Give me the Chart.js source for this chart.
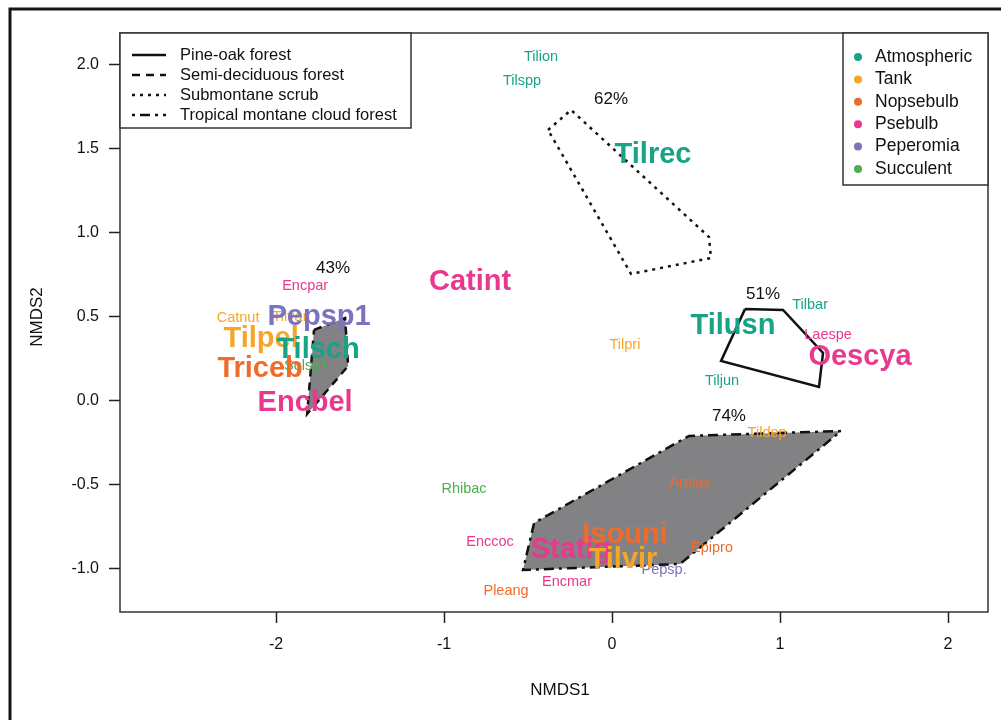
<!DOCTYPE html>
<html>
<head>
<meta charset="utf-8">
<title>NMDS epiphytes</title>
<script src="https://cdn.jsdelivr.net/npm/chart.js@4.4.1/dist/chart.umd.min.js"></script>
<style>
  html, body { margin: 0; padding: 0; background: #fff; }
  canvas { display: block; }
</style>
</head>
<body>
<canvas id="nmdsChart" width="1001" height="720"></canvas>
<script>
// === NMDS ordination of epiphyte species ===

// axis ticks
const xTicks = [-2, -1, 0, 1, 2];
const yTicks = [-1.0, -0.5, 0.0, 0.5, 1.0, 1.5, 2.0];

// functional groups
const groupNames = ['Atmospheric', 'Tank', 'Nopsebulb', 'Psebulb', 'Peperomia', 'Succulent'];
const groupColors = ['#17a386', '#f5a626', '#ef6b2c', '#e8398e', '#7a73bd', '#4caf4c'];

// species scores (group index, abundant = large label)
const speciesNames = ['Tilion', 'Tilspp', 'Tilrec', 'Catint', 'Encpar', 'Catnut', 'Tilvar', 'Pepsp1',
  'Tilpel', 'Solsp1', 'Tilsch', 'Triceb', 'Encbel', 'Tilpri', 'Tilusn', 'Tilbar', 'Laespe', 'Oescya',
  'Tiljun', 'Tildep', 'Arplax', 'Rhibac', 'Enccoc', 'Statig', 'Isouni', 'Epipro', 'Pepsp.', 'Tilvir',
  'Encmar', 'Pleang'];
const speciesX = [-0.423, -0.536, 0.244, -0.845, -1.827, -2.226, -1.917, -1.744,
  -2.089, -1.821, -1.75, -2.095, -1.827, 0.077, 0.72, 1.179, 1.286, 1.476,
  0.655, 0.923, 0.464, -0.881, -0.726, -0.244, 0.077, 0.595, 0.31, 0.065,
  -0.268, -0.631];
const speciesY = [2.048, 1.905, 1.464, 0.708, 0.685, 0.494, 0.5, 0.5,
  0.369, 0.208, 0.304, 0.19, -0.012, 0.333, 0.446, 0.571, 0.393, 0.262,
  0.119, -0.19, -0.488, -0.524, -0.839, -0.887, -0.798, -0.875, -1.006, -0.946,
  -1.077, -1.131];
const speciesGroup = [0, 0, 0, 3, 3, 1, 1, 4,
  1, 5, 0, 2, 3, 1, 0, 0, 3, 3,
  0, 1, 2, 5, 3, 3, 2, 2, 4, 1,
  3, 2];
const speciesAbundant = [false, false, true, true, false, false, false, true,
  true, false, true, true, true, false, true, false, false, true,
  false, false, false, false, false, true, true, false, false, true,
  false, false];

// vegetation types and their hulls
const vegNames = ['Pine-oak forest', 'Semi-deciduous forest', 'Submontane scrub', 'Tropical montane cloud forest'];
const vegDashes = [[], [8, 6], [3, 5], [3, 5, 10, 5]];

const pineOakX = [0.792, 1.018, 1.256, 1.232, 0.649, 0.792];
const pineOakY = [0.548, 0.542, 0.286, 0.083, 0.238, 0.548];
const semiDecidX = [-1.774, -1.589, -1.571, -1.815, -1.774];
const semiDecidY = [0.423, 0.494, 0.208, -0.077, 0.423];
const scrubX = [-0.381, -0.244, 0.577, 0.589, 0.113, -0.381];
const scrubY = [1.613, 1.732, 0.976, 0.851, 0.756, 1.613];
const cloudX = [1.363, 0.458, -0.464, -0.53, 0.405, 1.363];
const cloudY = [-0.179, -0.208, -0.726, -1.006, -0.97, -0.179];

// percentage next to each hull
const hullLabels = ['51%', '43%', '62%', '74%'];
const hullLabelX = [0.899, -1.661, -0.006, 0.696];
const hullLabelY = [0.637, 0.792, 1.798, -0.089];

const FONT = "'Liberation Sans', Arial, sans-serif";

const toPoints = (xs, ys) => xs.map((x, i) => ({ x: x, y: ys[i] }));

const hull = (label, xs, ys, dashIdx, filled) => ({
  label: label,
  data: toPoints(xs, ys),
  showLine: true,
  pointRadius: 0,
  borderColor: '#111',
  borderWidth: 2.5,
  borderDash: vegDashes[dashIdx],
  backgroundColor: filled ? '#828285' : 'transparent',
  fill: filled ? 'shape' : false,
  tension: 0
});

const decorPlugin = {
  id: 'decor',
  beforeDraw(chart) {
    const ctx = chart.ctx;
    ctx.save();
    // outer figure frame (left + top)
    ctx.strokeStyle = '#151515';
    ctx.lineWidth = 3;
    ctx.beginPath();
    ctx.moveTo(10, 720);
    ctx.lineTo(10, 9);
    ctx.lineTo(1001, 9);
    ctx.stroke();
    ctx.restore();
  },
  afterDatasetsDraw(chart) {
    const ctx = chart.ctx;
    const sx = chart.scales.x, sy = chart.scales.y;
    const a = chart.chartArea;
    ctx.save();

    // species labels
    ctx.textAlign = 'center';
    ctx.textBaseline = 'middle';
    speciesNames.forEach((name, i) => {
      ctx.font = speciesAbundant[i] ? 'bold 29px ' + FONT : '14.5px ' + FONT;
      ctx.fillStyle = groupColors[speciesGroup[i]];
      ctx.fillText(name, sx.getPixelForValue(speciesX[i]), sy.getPixelForValue(speciesY[i]));
    });

    // hull percentages
    ctx.font = '17px ' + FONT;
    ctx.fillStyle = '#111';
    hullLabels.forEach((t, i) => {
      ctx.fillText(t, sx.getPixelForValue(hullLabelX[i]), sy.getPixelForValue(hullLabelY[i]));
    });

    // plot box
    ctx.strokeStyle = '#333';
    ctx.lineWidth = 1.5;
    ctx.strokeRect(a.left, a.top, a.right - a.left, a.bottom - a.top);

    // vegetation legend (top-left)
    ctx.fillStyle = '#fff';
    ctx.fillRect(a.left, a.top, 291, 95);
    ctx.strokeRect(a.left, a.top, 291, 95);
    ctx.textAlign = 'left';
    ctx.font = '16.5px ' + FONT;
    vegNames.forEach((name, i) => {
      const y = a.top + 22 + i * 20;
      ctx.save();
      ctx.strokeStyle = '#111';
      ctx.lineWidth = 2.5;
      ctx.setLineDash(vegDashes[i]);
      ctx.beginPath();
      ctx.moveTo(a.left + 12, y);
      ctx.lineTo(a.left + 46, y);
      ctx.stroke();
      ctx.restore();
      ctx.fillStyle = '#111';
      ctx.fillText(name, a.left + 60, y);
    });

    // functional group legend (top-right)
    const lx = a.right - 145;
    ctx.fillStyle = '#fff';
    ctx.fillRect(lx, a.top, 145, 152);
    ctx.strokeRect(lx, a.top, 145, 152);
    ctx.font = '17.5px ' + FONT;
    groupNames.forEach((name, i) => {
      const y = a.top + 24 + i * 22.4;
      ctx.fillStyle = groupColors[i];
      ctx.beginPath();
      ctx.arc(lx + 15, y, 4, 0, Math.PI * 2);
      ctx.fill();
      ctx.fillStyle = '#111';
      ctx.fillText(name, lx + 32, y);
    });

    // axis titles
    ctx.font = '17px ' + FONT;
    ctx.textAlign = 'center';
    ctx.fillText('NMDS1', (a.left + a.right) / 2 + 6, 690);
    ctx.translate(37, 317);
    ctx.rotate(-Math.PI / 2);
    ctx.fillText('NMDS2', 0, 0);
    ctx.restore();
  }
};

new Chart(document.getElementById('nmdsChart'), {
  type: 'scatter',
  data: {
    datasets: [
      hull(vegNames[0], pineOakX, pineOakY, 0, false),
      hull(vegNames[1], semiDecidX, semiDecidY, 1, true),
      hull(vegNames[2], scrubX, scrubY, 2, false),
      hull(vegNames[3], cloudX, cloudY, 3, true)
    ]
  },
  options: {
    responsive: false,
    animation: false,
    layout: { padding: { top: 33, right: 13, left: 0, bottom: 0 } },
    plugins: { legend: { display: false }, tooltip: { enabled: false } },
    scales: {
      x: {
        type: 'linear',
        min: -2.929,
        max: 2.238,
        afterBuildTicks: s => { s.ticks = xTicks.map(v => ({ value: v })); },
        afterFit: s => { s.height = 108; },
        border: { display: false },
        grid: { drawOnChartArea: false, drawTicks: true, tickLength: 11, tickColor: '#222', tickWidth: 1.5 },
        ticks: { color: '#111', padding: 12, font: { family: FONT, size: 16 }, callback: v => String(v) }
      },
      y: {
        type: 'linear',
        min: -1.256,
        max: 2.19,
        afterBuildTicks: s => { s.ticks = yTicks.map(v => ({ value: v })); },
        afterFit: s => { s.width = 120; },
        border: { display: false },
        grid: { drawOnChartArea: false, drawTicks: true, tickLength: 11, tickColor: '#222', tickWidth: 1.5 },
        ticks: { color: '#111', padding: 10, font: { family: FONT, size: 16 }, callback: v => Number(v).toFixed(1) }
      }
    }
  },
  plugins: [decorPlugin]
});
</script>
</body>
</html>
